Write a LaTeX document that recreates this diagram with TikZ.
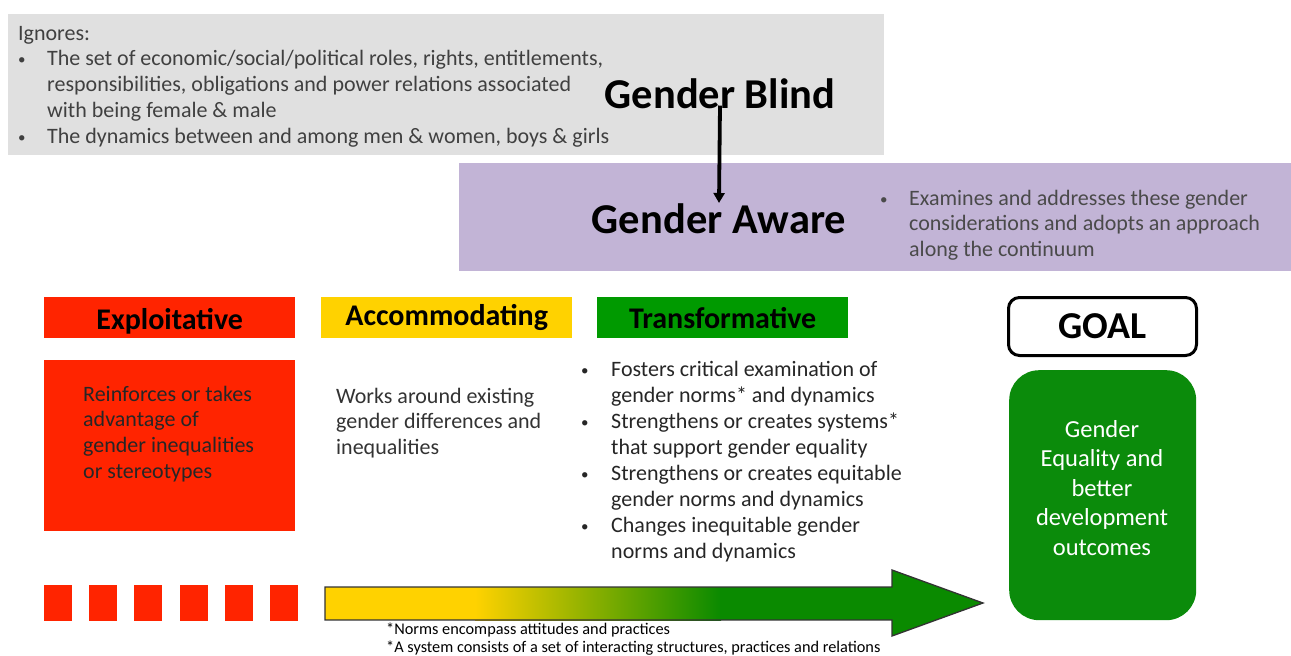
\documentclass[tikz,border=0pt]{standalone}
\usepackage{fontspec}
\setmainfont{Carlito}
\usetikzlibrary{arrows.meta}
\definecolor{boxgray}{HTML}{E0E0E0}
\definecolor{boxpurple}{HTML}{C2B4D6}
\definecolor{exred}{HTML}{FF2400}
\definecolor{acyellow}{HTML}{FFD200}
\definecolor{trgreen}{HTML}{009A00}
\definecolor{goalgreen}{HTML}{0B8B0B}
\definecolor{arrgreen}{HTML}{0A8A00}
\definecolor{txtgray}{HTML}{404040}
\definecolor{txtpurple}{HTML}{4A4A4A}
\newcommand{\smbul}{\raisebox{1pt}{\fontsize{15}{15}\selectfont •}}
\begin{document}
\begin{tikzpicture}[x=1pt,y=-1pt,
  body/.style={inner sep=0, anchor=base west, font=\fontsize{22}{25.8}\selectfont},
  hdr/.style={inner sep=0, minimum width=251, minimum height=41, anchor=north west, font=\fontsize{30}{34}\selectfont\bfseries},
  big/.style={inner sep=0, anchor=base, font=\fontsize{42.5}{50}\selectfont\bfseries},
  foot/.style={inner sep=0, anchor=base west, font=\fontsize{16.3}{20}\selectfont}
]
\useasboundingbox (0,0) rectangle (1291,656);

% background panels
\node[fill=boxgray, minimum width=876, minimum height=141, anchor=north west, inner sep=0] (gray) at (8,14) {};
\node[fill=boxpurple, minimum width=832, minimum height=108, anchor=north west, inner sep=0] (purple) at (459,163) {};

% gray box text
\node[body, text=txtgray] (ignores) at (18,40) {\begin{tabular}[t]{@{}p{29pt}@{}l@{}}
\multicolumn{2}{@{}l@{}}{Ignores:}\\
\smbul& The set of economic/social/political roles, rights, entitlements,\\
& responsibilities, obligations and power relations associated\\
& with being female \& male\\
\smbul& The dynamics between and among men \& women, boys \& girls
\end{tabular}};

% purple box text
\node[body, text=txtpurple] (examines) at (880,205) {\begin{tabular}[t]{@{}p{29pt}@{}l@{}}
\smbul& Examines and addresses these gender\\
& considerations and adopts an approach\\
& along the continuum
\end{tabular}};

% titles
\node[big] (gb) at (720,108) {Gender Blind};
\node[big] (ga) at (719,233) {Gender Aware};
\draw[line width=3.8, -{Triangle[length=10,width=11]}] ([yshift=3]gb.south) -- (ga.north);

% headers
\node[hdr, fill=exred, text height=30, text depth=6] (exh) at (44,297) {Exploitative};
\node[hdr, fill=acyellow] (ach) at (321,297) {Accommodating};
\node[hdr, fill=trgreen] (trh) at (597,297) {Transformative};
\node[draw, line width=3, rounded corners=11, minimum width=188, minimum height=58, anchor=north west, inner sep=0, font=\fontsize{38}{44}\selectfont\bfseries] (goal) at (1007,296) {GOAL};

% bodies
\node[fill=exred, minimum width=251, minimum height=171, anchor=north west, inner sep=0] (exb) at (44,360) {};
\node[body, text=black!85] (extxt) at (83,401) {\begin{tabular}[t]{@{}l@{}}
Reinforces or takes\\ advantage of\\ gender inequalities\\ or stereotypes
\end{tabular}};
\node[body, text=black!80] (actxt) at (336,403) {\begin{tabular}[t]{@{}l@{}}
Works around existing\\ gender differences and\\ inequalities
\end{tabular}};
\node[body, text=black!85, font=\fontsize{22}{26.1}\selectfont] (trtxt) at (581,376) {\begin{tabular}[t]{@{}p{30pt}@{}l@{}}
\smbul& Fosters critical examination of\\
& gender norms* and dynamics\\
\smbul& Strengthens or creates systems*\\
& that support gender equality\\
\smbul& Strengthens or creates equitable\\
& gender norms and dynamics\\
\smbul& Changes inequitable gender\\
& norms and dynamics
\end{tabular}};

\node[fill=goalgreen, rounded corners=30, minimum width=187, minimum height=250, anchor=north west, inner sep=0] (goalbox) at (1009,370) {};
\node[inner sep=0, anchor=base, text=white, font=\fontsize{24.5}{29.5}\selectfont] (goaltxt) at (1102,437) {\begin{tabular}[t]{@{}c@{}}Gender\\ Equality and\\ better\\ development\\ outcomes\end{tabular}};

% red squares
\foreach \i in {0,...,5} \fill[exred] ({44+45.2*\i},585) rectangle ++(28,36);

% continuum arrow
\fill[acyellow] (325,587) rectangle (476,620);
\shade[left color=acyellow, right color=arrgreen] (475,587) rectangle (721,620);
\fill[arrgreen] (720,587) rectangle (893,620);
\fill[arrgreen] (892,570) -- (983,603) -- (892,636) -- cycle;
\draw[line width=1.3, black!80, line join=miter] (325,587) -- (892,587) -- (892,570) -- (983,603) -- (892,636) -- (892,620) -- (325,620) -- cycle;

% footnotes
\node[foot] (fn1) at (386,634) {*Norms encompass attitudes and practices};
\node[foot] (fn2) at (386,652) {*A system consists of a set of interacting structures, practices and relations};
\end{tikzpicture}
\end{document}
